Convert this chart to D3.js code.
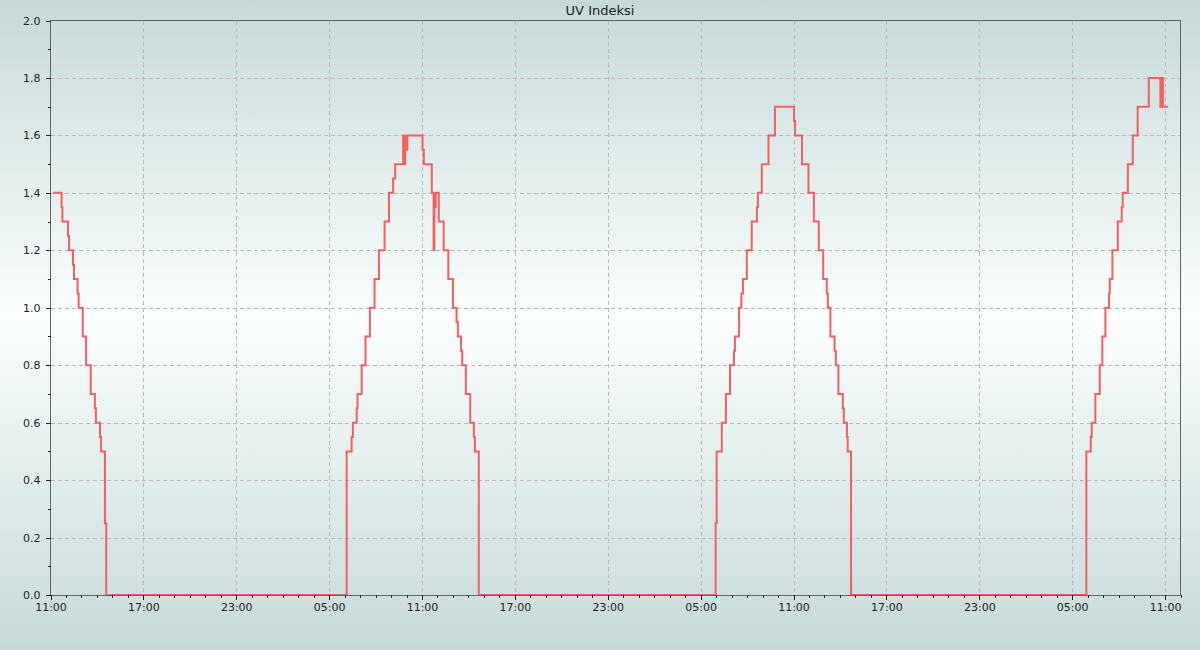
<!DOCTYPE html>
<html>
<head>
<meta charset="utf-8">
<script src="https://cdn.jsdelivr.net/npm/d3@7"></script>
<style>
html,body{margin:0;padding:0;}
svg{display:block;font-family:"DejaVu Sans",sans-serif;}
</style>
</head>
<body>
<svg id="chart" width="1200" height="650"></svg>
<script>
const chartTitle = "UV Indeksi";
const domainStart = "2024-04-01 11:00";
const domainEnd = "2024-04-04 12:00";
const majorTickTimes = ["2024-04-01 11:00","2024-04-01 17:00","2024-04-01 23:00","2024-04-02 05:00",
  "2024-04-02 11:00","2024-04-02 17:00","2024-04-02 23:00","2024-04-03 05:00",
  "2024-04-03 11:00","2024-04-03 17:00","2024-04-03 23:00","2024-04-04 05:00","2024-04-04 11:00"];
const yMajorTicks = [0,0.2,0.4,0.6,0.8,1.0,1.2,1.4,1.6,1.8,2.0];
const yMinorTicks = [0.1,0.3,0.5,0.7,0.9,1.1,1.3,1.5,1.7,1.9];

const times = [
 "2024-04-01 11:11","2024-04-01 11:43","2024-04-01 11:46","2024-04-01 12:08","2024-04-01 12:12",
 "2024-04-01 12:27","2024-04-01 12:31","2024-04-01 12:45","2024-04-01 12:49","2024-04-01 13:05",
 "2024-04-01 13:18","2024-04-01 13:36","2024-04-01 13:52","2024-04-01 13:56","2024-04-01 14:12",
 "2024-04-01 14:16","2024-04-01 14:31","2024-04-01 14:36",
 "2024-04-02 06:08","2024-04-02 06:27","2024-04-02 06:32","2024-04-02 06:47","2024-04-02 06:50",
 "2024-04-02 07:06","2024-04-02 07:21","2024-04-02 07:38","2024-04-02 07:56","2024-04-02 08:13",
 "2024-04-02 08:35","2024-04-02 08:52","2024-04-02 09:08","2024-04-02 09:16","2024-04-02 09:47",
 "2024-04-02 09:51","2024-04-02 09:55","2024-04-02 09:59","2024-04-02 10:03","2024-04-02 11:02",
 "2024-04-02 11:07","2024-04-02 11:38","2024-04-02 11:45","2024-04-02 11:48","2024-04-02 11:50",
 "2024-04-02 11:53","2024-04-02 12:05","2024-04-02 12:24","2024-04-02 12:42","2024-04-02 13:00",
 "2024-04-02 13:14","2024-04-02 13:19","2024-04-02 13:31","2024-04-02 13:36","2024-04-02 13:50",
 "2024-04-02 14:07","2024-04-02 14:21","2024-04-02 14:25","2024-04-02 14:40",
 "2024-04-03 05:58","2024-04-03 06:02","2024-04-03 06:22","2024-04-03 06:38","2024-04-03 06:54",
 "2024-04-03 07:09","2024-04-03 07:13","2024-04-03 07:29","2024-04-03 07:38","2024-04-03 07:44",
 "2024-04-03 07:59","2024-04-03 08:18","2024-04-03 08:38","2024-04-03 08:42","2024-04-03 08:57",
 "2024-04-03 09:23","2024-04-03 09:48","2024-04-03 11:02","2024-04-03 11:06","2024-04-03 11:33",
 "2024-04-03 11:58","2024-04-03 12:19","2024-04-03 12:38","2024-04-03 12:55","2024-04-03 13:09",
 "2024-04-03 13:13","2024-04-03 13:23","2024-04-03 13:39","2024-04-03 13:44","2024-04-03 13:54",
 "2024-04-03 14:11","2024-04-03 14:15","2024-04-03 14:27","2024-04-03 14:30","2024-04-03 14:43",
 "2024-04-04 05:55","2024-04-04 06:12","2024-04-04 06:16","2024-04-04 06:30","2024-04-04 06:47",
 "2024-04-04 06:57","2024-04-04 07:09","2024-04-04 07:23","2024-04-04 07:26","2024-04-04 07:36",
 "2024-04-04 07:57","2024-04-04 08:12","2024-04-04 08:16","2024-04-04 08:36","2024-04-04 08:55",
 "2024-04-04 09:14","2024-04-04 09:57","2024-04-04 10:42","2024-04-04 10:45","2024-04-04 10:49",
 "2024-04-04 10:51","2024-04-04 10:52","2024-04-04 11:12"
];
const uv = [
 1.4,1.35,1.3,1.25,1.2,
 1.15,1.1,1.05,1.0,0.9,
 0.8,0.7,0.65,0.6,0.55,
 0.5,0.25,0.0,
 0.5,0.55,0.6,0.65,0.7,
 0.8,0.9,1.0,1.1,1.2,
 1.3,1.4,1.45,1.5,1.6,
 1.5,1.6,1.55,1.6,1.55,
 1.5,1.4,1.2,1.4,1.35,
 1.4,1.3,1.2,1.1,1.0,
 0.95,0.9,0.85,0.8,0.7,
 0.6,0.55,0.5,0.0,
 0.25,0.5,0.6,0.7,0.8,
 0.85,0.9,1.0,1.05,1.1,
 1.2,1.3,1.35,1.4,1.5,
 1.6,1.7,1.65,1.6,1.5,
 1.4,1.3,1.2,1.1,1.05,
 1.0,0.9,0.85,0.8,0.7,
 0.65,0.6,0.55,0.5,0.0,
 0.5,0.55,0.6,0.7,0.8,
 0.9,1.0,1.05,1.1,1.2,
 1.3,1.35,1.4,1.5,1.6,
 1.7,1.8,1.7,1.8,1.7,
 1.8,1.7,1.7
];

const W = 1200, H = 650;
const m = {left: 50.5, right: 1180.5, top: 20.5, bottom: 595};
const parse = d3.timeParse("%Y-%m-%d %H:%M");
const data = times.map((t, i) => ({t: parse(t), v: uv[i]}));

const svg = d3.select("#chart");
const defs = svg.append("defs");
const grad = defs.append("linearGradient").attr("id", "bg").attr("x1", 0).attr("x2", 0).attr("y1", 0).attr("y2", 1);
grad.append("stop").attr("offset", "0%").attr("stop-color", "#c5dad8");
grad.append("stop").attr("offset", "49%").attr("stop-color", "#fbfefe");
grad.append("stop").attr("offset", "100%").attr("stop-color", "#c5dad8");
svg.append("rect").attr("width", W).attr("height", H).attr("fill", "url(#bg)");

const x = d3.scaleTime().domain([parse(domainStart), parse(domainEnd)]).range([m.left, m.right]);
const y = d3.scaleLinear().domain([0, 2]).range([m.bottom, m.top]);

// grid
const grid = svg.append("g").attr("stroke", "#b9b9b9").attr("stroke-width", 1).attr("stroke-dasharray", "4,3").attr("shape-rendering", "crispEdges");
grid.selectAll("line.h").data(yMajorTicks.slice(1, -1)).join("line")
  .attr("x1", m.left).attr("x2", m.right)
  .attr("y1", d => Math.round(y(d)) + 0.5).attr("y2", d => Math.round(y(d)) + 0.5);
grid.selectAll("line.v").data(majorTickTimes.slice(1).map(parse)).join("line")
  .attr("y1", m.top).attr("y2", m.bottom)
  .attr("x1", d => Math.round(x(d)) + 0.5).attr("x2", d => Math.round(x(d)) + 0.5);

// data line
const line = d3.line().x(d => x(d.t)).y(d => y(d.v)).curve(d3.curveStepAfter);
svg.append("path").datum(data).attr("d", line)
  .attr("fill", "none").attr("stroke", "#f45f5f").attr("stroke-width", 2);

// frame
svg.append("rect").attr("x", m.left).attr("y", m.top).attr("width", m.right - m.left).attr("height", m.bottom - m.top)
  .attr("fill", "none").attr("stroke", "#5f6464").attr("stroke-width", 1).attr("shape-rendering", "crispEdges");

// x axis
const xAxisG = svg.append("g").attr("transform", `translate(0,${m.bottom})`);
const minorX = x.ticks(d3.timeHour.every(1));
xAxisG.call(d3.axisBottom(x).tickValues(minorX).tickSize(3).tickFormat(""))
  .call(g => g.select(".domain").remove());
const xMajor = svg.append("g").attr("transform", `translate(0,${m.bottom})`);
xMajor.call(d3.axisBottom(x).tickValues(majorTickTimes.map(parse)).tickSize(5).tickPadding(3).tickFormat(d3.timeFormat("%H:%M")))
  .call(g => g.select(".domain").remove());

// y axis
const yAxisMinor = svg.append("g").attr("transform", `translate(${m.left},0)`);
yAxisMinor.call(d3.axisLeft(y).tickValues(yMinorTicks).tickSize(3).tickFormat(""))
  .call(g => g.select(".domain").remove());
const yAxisMajor = svg.append("g").attr("transform", `translate(${m.left},0)`);
yAxisMajor.call(d3.axisLeft(y).tickValues(yMajorTicks).tickSize(5).tickPadding(5).tickFormat(d3.format(".1f")))
  .call(g => g.select(".domain").remove());

svg.selectAll(".tick line").attr("stroke", "#222").attr("shape-rendering", "crispEdges");
svg.selectAll(".tick text").attr("fill", "#222").style("font-size", "11px").style("font-family", "DejaVu Sans");

// title
svg.append("text").attr("x", 600).attr("y", 15).attr("text-anchor", "middle")
  .attr("fill", "#222").style("font-size", "13px").text(chartTitle);
</script>
</body>
</html>
